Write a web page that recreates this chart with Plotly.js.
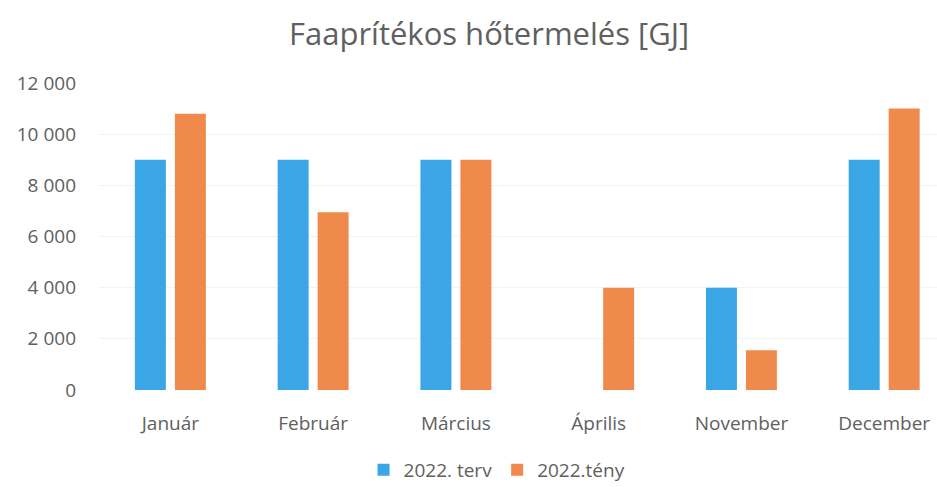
<!DOCTYPE html>
<html>
<head>
<meta charset="utf-8">
<script src="https://cdn.plot.ly/plotly-3.0.1.min.js"></script>
<style>html,body{margin:0;padding:0;background:#fff;}#chart{width:937px;height:487px;}</style>
</head>
<body>
<div id="chart"></div>
<script>
const categories = ["Január", "Február", "Március", "Április", "November", "December"];
const terv = [9000, 9000, 9000, 0, 4000, 9000];
const teny = [10800, 6950, 9000, 4000, 1550, 11000];
const seriesNames = ["2022. terv", "2022.tény"];
const yTicks = [0, 2000, 4000, 6000, 8000, 10000, 12000];

const font = "Open Sans, Noto Sans, sans-serif";
const grey = "#606060";

const data = [
  {type: "bar", x: categories, y: terv, name: seriesNames[0], marker: {color: "#3BA6E6"}},
  {type: "bar", x: categories, y: teny, name: seriesNames[1], marker: {color: "#F08A4C"}}
];

const layout = {
  width: 937, height: 487,
  margin: {l: 99, r: 0, t: 83, b: 97},
  paper_bgcolor: "#fff", plot_bgcolor: "#fff",
  separators: ", ",
  title: {text: "Faaprítékos hőtermelés [GJ]", font: {family: font, size: 31, color: grey}, x: 0.522, xanchor: "center", y: 0.93, yanchor: "middle"},
  barmode: "group", bargap: 0.44, bargroupgap: 0.225,
  xaxis: {range: [-0.5, 5.37], tickfont: {family: font, size: 19, color: grey}, showline: false, ticks: "", fixedrange: true, ticklabelstandoff: 20, automargin: false},
  yaxis: {range: [0, 12000], tickvals: yTicks, tickformat: ",d", tickfont: {family: font, size: 19, color: grey}, showgrid: true, gridcolor: "#f3f3f3", zeroline: false, ticklabelstandoff: 22, automargin: false},
  legend: {orientation: "h", x: 0.475, xanchor: "center", yref: "container", y: 0.035, yanchor: "middle", font: {family: font, size: 19, color: grey}, itemwidth: 30, tracegroupgap: 0},
  showlegend: true
};

Plotly.newPlot("chart", data, layout, {displayModeBar: false, staticPlot: true});
</script>
</body>
</html>
